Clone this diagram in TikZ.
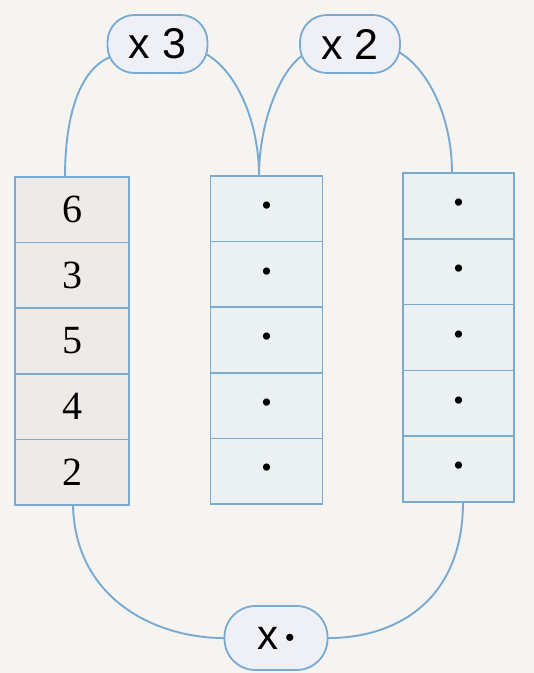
\documentclass[tikz,border=0pt]{standalone}
\usepackage{fontspec}
\setmainfont{Liberation Serif}
\newfontfamily\ovalfont{Liberation Sans}
\usetikzlibrary{backgrounds}
\definecolor{lineblue}{RGB}{120,170,210}
\definecolor{bgcol}{RGB}{246,244,241}
\definecolor{cellgrey}{RGB}{238,234,232}
\definecolor{cellblue}{RGB}{235,240,243}
\definecolor{ovalfill}{RGB}{238,240,246}
\begin{document}
\begin{tikzpicture}[x=1pt,y=-1pt,
  cell/.style={draw=lineblue, line width=1.7pt, minimum height=65.6pt, inner sep=0pt, outer sep=0pt},
  greycell/.style={cell, fill=cellgrey, minimum width=114pt},
  bluecell/.style={cell, fill=cellblue, minimum width=112pt},
  oval/.style={draw=lineblue, line width=1.8pt, fill=ovalfill, rounded corners=27pt,
    minimum width=100pt, minimum height=58pt, inner sep=0pt,
    font=\ovalfont\fontsize{43}{43}\selectfont},
  link/.style={draw=lineblue, line width=1.9pt},
  num/.style={font=\fontsize{40}{40}\selectfont},
  dotc/.style={font=\fontsize{30}{30}\selectfont}
]
\useasboundingbox (0,0) rectangle (534,673);

% columns
\foreach \v [count=\i] in {6,3,5,4,2}
  \node[greycell, num] (L\i) at (72, {177+65.6*(\i-0.5)}) {\v};
\foreach \i in {1,...,5}
  \node[bluecell, dotc] (M\i) at (266.5, {176+65.6*(\i-0.5)}) {\textbullet};
\foreach \i in {1,...,5}
  \node[bluecell, dotc, minimum width=111pt, minimum height=65.8pt] (R\i) at (458.5, {173+65.8*(\i-0.5)}) {\textbullet};

% ovals
\node[oval] (x3) at (157.5,44) {x 3};
\node[oval] (x2) at (350,44) {x 2};
\node[oval, minimum width=103pt, minimum height=64pt, rounded corners=31pt,
      font=\ovalfont\fontsize{42}{42}\selectfont] (xb) at (276,638)
      {x\hspace{7pt}\raisebox{3pt}{\fontsize{26}{26}\selectfont\textbullet}};

\begin{scope}[on background layer]
  \fill[bgcol] (0,0) rectangle (534,673);
  \draw[link] ([xshift=-7pt]L1.north) .. controls +(0,-62) and +(-33,12) .. ([xshift=6pt,yshift=-12pt]x3.west);
  \draw[link] ([xshift=-6pt,yshift=-8pt]x3.east) .. controls +(33,16) and +(0,-56) .. ([xshift=-7.5pt]M1.north);
  \draw[link] ([xshift=-7.5pt]M1.north) .. controls +(0,-56) and +(-23,12) .. ([xshift=6pt,yshift=-10pt]x2.west);
  \draw[link] ([xshift=-6pt,yshift=-6pt]x2.east) .. controls +(30,14) and +(0,-60) .. ([xshift=-6.5pt]R1.north);
  \draw[link] ([xshift=1pt]L5.south) .. controls +(2,95) and +(-72,2) .. ([xshift=6pt]xb.west);
  \draw[link] ([xshift=4.5pt]R5.south) .. controls +(0,98) and +(74,2) .. ([xshift=-6pt]xb.east);
\end{scope}
\end{tikzpicture}
\end{document}
